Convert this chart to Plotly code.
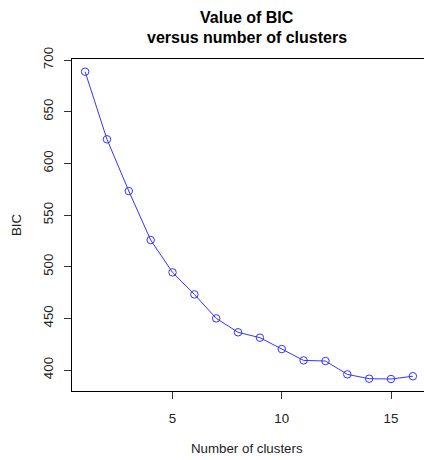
import plotly.graph_objects as go

clusters = list(range(1, 17))
bic = [688.7, 623.3, 573.2, 525.8, 494.5, 473.2, 450.0, 436.5,
       431.3, 420.3, 409.3, 408.7, 395.8, 391.6, 391.3, 394.0]

x_ticks = [5, 10, 15]
y_ticks = [400, 450, 500, 550, 600, 650, 700]

FONT = "Liberation Sans, Arial, sans-serif"
TXT = "#222"

fig = go.Figure()
fig.add_trace(go.Scatter(
    x=clusters, y=bic, mode="lines+markers",
    line=dict(color="#3333ff", width=1),
    marker=dict(symbol="circle-open", size=7.5, color="#3333ff", line=dict(width=1)),
    showlegend=False,
))

fig.update_layout(
    width=424, height=460,
    margin=dict(l=72, r=0, t=59, b=69),
    paper_bgcolor="white", plot_bgcolor="white",
    font=dict(family=FONT, size=13, color="black"),
    xaxis=dict(
        range=[0.4, 16.51], tickvals=x_ticks, ticks="outside", ticklen=7,
        tickcolor="#333", showgrid=False, zeroline=False,
        showline=True, linecolor="black", linewidth=1, mirror=True,
        tickfont=dict(size=13.3, color=TXT), ticklabelstandoff=8,
    ),
    yaxis=dict(
        range=[379.7, 701.0], tickvals=y_ticks, ticks="outside", ticklen=7,
        tickcolor="#333", showgrid=False, zeroline=False,
        showline=True, linecolor="black", linewidth=1, mirror=False,
        tickangle=-90, tickfont=dict(size=13.3, color=TXT), ticklabelstandoff=6,
    ),
    annotations=[
        dict(text="<b>Value of BIC</b>", xref="paper", yref="paper",
             x=0.497, y=1.1265, showarrow=False, xanchor="center", yanchor="middle",
             font=dict(size=16, family=FONT, color="black")),
        dict(text="<b>versus number of clusters</b>", xref="paper", yref="paper",
             x=0.497, y=1.0633, showarrow=False, xanchor="center", yanchor="middle",
             font=dict(size=16, family=FONT, color="black")),
        dict(text="Number of clusters", xref="paper", yref="paper",
             x=0.497, y=-0.1717, showarrow=False, xanchor="center", yanchor="middle",
             font=dict(size=13.3, family=FONT, color=TXT)),
        dict(text="BIC", xref="paper", yref="paper", textangle=-90,
             x=-0.159, y=0.5, showarrow=False, xanchor="center", yanchor="middle",
             font=dict(size=13.3, family=FONT, color=TXT)),
    ],
)

fig.write_html(
    "out.html",
    config={"displayModeBar": False},
    post_script="document.body.style.margin='0';document.body.style.overflow='hidden';",
)
